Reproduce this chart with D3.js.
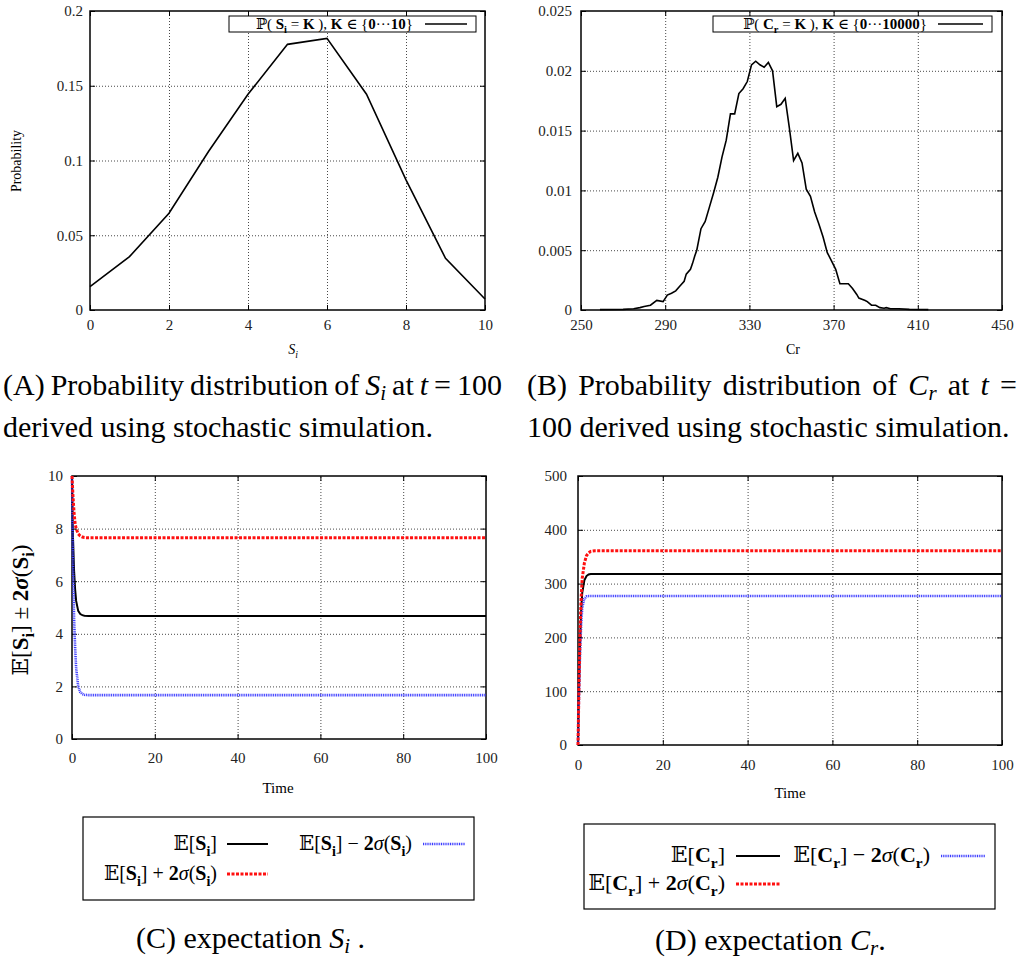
<!DOCTYPE html>
<html>
<head>
<meta charset="utf-8">
<script src="https://cdn.jsdelivr.net/npm/d3@7"></script>
<style>
body{margin:0;background:#fff;}
svg{display:block;font-family:'Liberation Serif','Times New Roman','DejaVu Serif',serif;}
</style>
</head>
<body>
<svg id="chart" width="1021" height="961"></svg>
<script>
// (A) distribution of S_i
var siK = [0, 1, 2, 3, 4, 5, 6, 7, 8, 9, 10];
var siP = [0.0156, 0.0357, 0.0647, 0.106, 0.1443, 0.1777, 0.1817, 0.1443, 0.087, 0.0346, 0.0074];

// (B) distribution of C_r
var crK = [259,270,275,278,280,283,286,289,291,293,295,297,299,300,302,303,304,305,307,309,
           311,313,315,317,319,321,323,325,327,329,331,333,335,337,339,341,343,345,347,349,
           351,353,355,357,359,361,363,365,367,369,371,373,375,377,379,381,382,385,386,388,
           390,392,394,395,397,401,406,415];
var crP = [0.00003,0.00005,0.0001,0.0002,0.0003,0.0004,0.0008,0.0007,0.00125,0.0014,
           0.0016,0.002,0.0024,0.003,0.0034,0.0039,0.0045,0.005,0.0068,0.0074,
           0.0086,0.0098,0.0111,0.0128,0.0142,0.0164,0.0164,0.0181,0.0185,0.0191,
           0.0205,0.0208,0.0205,0.0203,0.0207,0.02,0.017,0.0172,0.0177,0.0152,
           0.0125,0.0131,0.0123,0.0101,0.0095,0.0082,0.0072,0.0061,0.0048,0.0041,
           0.0034,0.0022,0.0022,0.0022,0.0018,0.0013,0.001,0.0008,0.0007,0.0004,
           0.0004,0.0002,0.00015,0.0002,0.0001,0.0001,0.00005,0.00003];

// (C) expectation of S_i over time
var timeC = [0, 0.25, 0.5, 0.75, 1, 1.5, 2, 2.5, 3, 4, 5, 20, 40, 60, 80, 100];
var siMean  = [10, 7.6, 6.4, 5.7, 5.25, 4.87, 4.75, 4.71, 4.69, 4.68, 4.68, 4.68, 4.68, 4.68, 4.68, 4.68];
var siUpper = [10, 9.2, 8.6, 8.2, 8.0, 7.8, 7.72, 7.68, 7.66, 7.65, 7.65, 7.65, 7.65, 7.65, 7.65, 7.65];
var siLower = [10, 6.6, 4.6, 3.5, 2.7, 2.0, 1.78, 1.71, 1.68, 1.67, 1.67, 1.67, 1.67, 1.67, 1.67, 1.67];

// (D) expectation of C_r over time
var timeD = [0, 0.25, 0.5, 0.75, 1, 1.5, 2, 2.5, 3, 4, 5, 20, 40, 60, 80, 100];
var crMean  = [0, 110, 195, 250, 283, 306, 314, 317, 318, 318, 318, 318, 318, 318, 318, 318];
var crUpper = [0, 120, 215, 275, 310, 338, 352, 357, 360, 361, 361, 361, 361, 361, 361, 361];
var crLower = [0, 100, 175, 225, 256, 272, 276, 277, 277, 277, 277, 277, 277, 277, 277, 277];

var svg = d3.select('#chart');

// write a text made of pieces: 'b' bold, 'i' italic, 's' subscript
function mathText(txt, parts, size, subShift){
    var shift = 0;
    var down = subShift === undefined ? 0.28 : subShift;
    parts.forEach(function(p){
        var st = p[1] || '';
        var ts = txt.append('tspan').text(p[0]);
        if (st.indexOf('b') >= 0) ts.attr('font-weight', 'bold');
        if (st.indexOf('i') >= 0) ts.attr('font-style', 'italic');
        var sub = st.indexOf('s') >= 0;
        ts.attr('font-size', sub ? size*0.7 : size);
        var want = sub ? size*down : 0;
        if (want != shift){ ts.attr('dy', want - shift); shift = want; }
    });
    return txt;
}

// frame, grid and ticks of one gnuplot-like panel
function panel(box, xDom, yDom, xTicks, yTicks, yFmt, xPad, yPad){
    var x = d3.scaleLinear().domain(xDom).range([box.x0, box.x1]);
    var y = d3.scaleLinear().domain(yDom).range([box.y1, box.y0]);
    var w = box.x1 - box.x0, h = box.y1 - box.y0;
    var g = svg.append('g');

    // dotted gridlines
    g.append('g').attr('transform', 'translate(0,' + box.y1 + ')')
        .call(d3.axisBottom(x).tickValues(xTicks.slice(1, -1)).tickSize(-h).tickFormat(''))
        .call(function(s){ s.select('.domain').remove(); })
        .selectAll('line').attr('stroke', '#333').attr('stroke-width', 0.9).attr('stroke-dasharray', '1,2');
    g.append('g').attr('transform', 'translate(' + box.x0 + ',0)')
        .call(d3.axisLeft(y).tickValues(yTicks.slice(1, -1)).tickSize(-w).tickFormat(''))
        .call(function(s){ s.select('.domain').remove(); })
        .selectAll('line').attr('stroke', '#333').attr('stroke-width', 0.9).attr('stroke-dasharray', '1,2');

    // inward ticks with labels
    g.append('g').attr('transform', 'translate(0,' + box.y1 + ')')
        .call(d3.axisBottom(x).tickValues(xTicks).tickSize(-5).tickPadding(xPad).tickFormat(d3.format('d')));
    g.append('g').attr('transform', 'translate(' + box.x0 + ',0)')
        .call(d3.axisLeft(y).tickValues(yTicks).tickSize(-5).tickPadding(yPad).tickFormat(yFmt));
    g.append('g').attr('transform', 'translate(0,' + box.y0 + ')')
        .call(d3.axisTop(x).tickValues(xTicks).tickSize(-5).tickFormat(''));
    g.append('g').attr('transform', 'translate(' + box.x1 + ',0)')
        .call(d3.axisRight(y).tickValues(yTicks).tickSize(-5).tickFormat(''));
    g.selectAll('.domain').remove();
    g.selectAll('.tick text').attr('font-family', "'Liberation Serif','Times New Roman',serif")
        .attr('font-size', 15).attr('fill', '#222');

    // border
    g.append('rect').attr('x', box.x0).attr('y', box.y0).attr('width', w).attr('height', h)
        .attr('fill', 'none').attr('stroke', '#000').attr('stroke-width', 1.5);
    return {x: x, y: y, g: g};
}

function addLine(p, xs, ys, color, width, dash){
    var xy = xs.map(function(v, i){ return [v, ys[i]]; });
    var path = p.g.append('path').datum(xy)
        .attr('fill', 'none')
        .attr('stroke', color)
        .attr('stroke-width', width)
        .attr('d', d3.line().x(function(d){ return p.x(d[0]); }).y(function(d){ return p.y(d[1]); }));
    if (dash) path.attr('stroke-dasharray', dash);
    return path;
}

function plainFmt(d){ return d3.format('~g')(d); }

// ---- panel A
var pA = panel({x0: 90, x1: 485, y0: 11, y1: 310}, [0, 10], [0, 0.2],
    [0, 2, 4, 6, 8, 10], [0, 0.05, 0.1, 0.15, 0.2], plainFmt, 9.5, 7);
addLine(pA, siK, siP, '#000', 1.6);
pA.g.append('rect').attr('x', 229).attr('y', 16).attr('width', 247).attr('height', 16)
    .attr('fill', '#fff').attr('stroke', '#000').attr('stroke-width', 1);
mathText(pA.g.append('text').attr('x', 413).attr('y', 29).attr('text-anchor', 'end'),
    [['ℙ( '], ['S', 'b'], ['i', 'bs'], [' = '], ['K', 'b'], [' ), '], ['K', 'b'], [' ∈ {'],
     ['0', 'b'], ['···'], ['10', 'b'], ['}']], 15);
pA.g.append('line').attr('x1', 425).attr('x2', 467).attr('y1', 24).attr('y2', 24)
    .attr('stroke', '#000').attr('stroke-width', 1.6);
pA.g.append('text').attr('transform', 'translate(21,161) rotate(-90)')
    .attr('text-anchor', 'middle').attr('font-size', 14).text('Probability');
mathText(pA.g.append('text').attr('x', 293).attr('y', 354).attr('text-anchor', 'middle'),
    [['S', 'i'], ['i', 'is']], 14);

// ---- panel B
var pB = panel({x0: 581, x1: 1002, y0: 11, y1: 310}, [250, 450], [0, 0.025],
    [250, 290, 330, 370, 410, 450], [0, 0.005, 0.01, 0.015, 0.02, 0.025], plainFmt, 9.5, 9);
addLine(pB, crK, crP, '#000', 1.6);
pB.g.append('rect').attr('x', 713).attr('y', 16).attr('width', 279).attr('height', 16)
    .attr('fill', '#fff').attr('stroke', '#000').attr('stroke-width', 1);
mathText(pB.g.append('text').attr('x', 927).attr('y', 29).attr('text-anchor', 'end'),
    [['ℙ( '], ['C', 'b'], ['r', 'bs'], [' = '], ['K', 'b'], [' ), '], ['K', 'b'], [' ∈ {'],
     ['0', 'b'], ['···'], ['10000', 'b'], ['}']], 15);
pB.g.append('line').attr('x1', 938).attr('x2', 983).attr('y1', 24).attr('y2', 24)
    .attr('stroke', '#000').attr('stroke-width', 1.6);
pB.g.append('text').attr('x', 793).attr('y', 354).attr('text-anchor', 'middle')
    .attr('font-size', 14).text('Cr');

// ---- panel C
var pC = panel({x0: 72, x1: 486, y0: 476, y1: 739}, [0, 100], [0, 10],
    [0, 20, 40, 60, 80, 100], [0, 2, 4, 6, 8, 10], plainFmt, 13.5, 9);
addLine(pC, timeC, siMean, '#000', 2);
addLine(pC, timeC, siLower, '#3b3bff', 2.6, '1,0.8');
addLine(pC, timeC, siUpper, '#ff1010', 3, '3,1.5');
pC.g.append('text').attr('x', 278).attr('y', 793).attr('text-anchor', 'middle')
    .attr('font-size', 15).text('Time');
mathText(pC.g.append('text').attr('transform', 'translate(28,610) rotate(-90)').attr('text-anchor', 'middle'),
    [['𝔼['], ['S', 'b'], ['i', 'bs'], ['] ± '], ['2', 'b'], ['σ', 'bi'], ['('], ['S', 'b'], ['i', 'bs'], [')']], 23);

// ---- panel D
var pD = panel({x0: 578, x1: 1002, y0: 476, y1: 745}, [0, 100], [0, 500],
    [0, 20, 40, 60, 80, 100], [0, 100, 200, 300, 400, 500], plainFmt, 14.5, 11);
addLine(pD, timeD, crMean, '#000', 2);
addLine(pD, timeD, crLower, '#3b3bff', 2.6, '1,0.8');
addLine(pD, timeD, crUpper, '#ff1010', 3, '3,1.5');
pD.g.append('text').attr('x', 790).attr('y', 798).attr('text-anchor', 'middle')
    .attr('font-size', 15).text('Time');

// ---- legends under C and D
function legend(box, cols, rows, size, entries){
    var g = svg.append('g');
    g.append('rect').attr('x', box.x0).attr('y', box.y0)
        .attr('width', box.x1 - box.x0).attr('height', box.y1 - box.y0)
        .attr('fill', 'none').attr('stroke', '#000').attr('stroke-width', 1.2);
    entries.forEach(function(e){
        var c = cols[e.col], yy = rows[e.row];
        mathText(g.append('text').attr('x', c.text).attr('y', yy).attr('text-anchor', 'end'), e.parts, size);
        var l = g.append('line').attr('x1', c.l0).attr('x2', c.l1)
            .attr('y1', yy - 6).attr('y2', yy - 6)
            .attr('stroke', e.color).attr('stroke-width', e.width);
        if (e.dash) l.attr('stroke-dasharray', e.dash);
    });
}

legend({x0: 83, x1: 474, y0: 817, y1: 900},
    [{text: 217, l0: 227, l1: 268}, {text: 412, l0: 423, l1: 465}], [850, 880], 20,
    [{col: 0, row: 0, color: '#000', width: 2,
      parts: [['𝔼['], ['S', 'b'], ['i', 'bs'], [']']]},
     {col: 1, row: 0, color: '#3b3bff', width: 2.6, dash: '1,0.8',
      parts: [['𝔼['], ['S', 'b'], ['i', 'bs'], ['] − '], ['2', 'b'], ['σ', 'i'], ['('], ['S', 'b'], ['i', 'bs'], [')']]},
     {col: 0, row: 1, color: '#ff1010', width: 3, dash: '3,1.5',
      parts: [['𝔼['], ['S', 'b'], ['i', 'bs'], ['] + '], ['2', 'b'], ['σ', 'i'], ['('], ['S', 'b'], ['i', 'bs'], [')']]}]);

legend({x0: 584, x1: 995, y0: 824, y1: 909},
    [{text: 725, l0: 736, l1: 780}, {text: 930, l0: 941, l1: 985}], [862, 890], 22,
    [{col: 0, row: 0, color: '#000', width: 2,
      parts: [['𝔼['], ['C', 'b'], ['r', 'bs'], [']']]},
     {col: 1, row: 0, color: '#3b3bff', width: 2.6, dash: '1,0.8',
      parts: [['𝔼['], ['C', 'b'], ['r', 'bs'], ['] − '], ['2', 'b'], ['σ', 'i'], ['('], ['C', 'b'], ['r', 'bs'], [')']]},
     {col: 0, row: 1, color: '#ff1010', width: 3, dash: '3,1.5',
      parts: [['𝔼['], ['C', 'b'], ['r', 'bs'], ['] + '], ['2', 'b'], ['σ', 'i'], ['('], ['C', 'b'], ['r', 'bs'], [')']]}]);

// ---- captions
function caption(x, y, parts, justifyTo){
    var t = mathText(svg.append('text').attr('x', x).attr('y', y), parts, 30, 0.18);
    if (justifyTo){
        var natural = t.node().getComputedTextLength();
        var spaces = parts.map(function(p){ return p[0]; }).join('').split(' ').length - 1;
        t.attr('word-spacing', (justifyTo - x - natural) / spaces);
    }
}

caption(3, 395, [['(A) Probability distribution of '], ['S', 'i'], ['i', 'is'], [' at '], ['t', 'i'], [' = 100']], 502);
caption(3, 437, [['derived using stochastic simulation.']]);
caption(527, 395, [['(B) Probability distribution of '], ['C', 'i'], ['r', 'is'], [' at '], ['t', 'i'], [' =']], 1017);
caption(527, 437, [['100 derived using stochastic simulation.']]);
caption(136, 948, [['(C) expectation '], ['S', 'i'], ['i', 'is'], [' .']]);
caption(655, 950, [['(D) expectation '], ['C', 'i'], ['r', 'is'], ['.']]);
</script>
</body>
</html>
